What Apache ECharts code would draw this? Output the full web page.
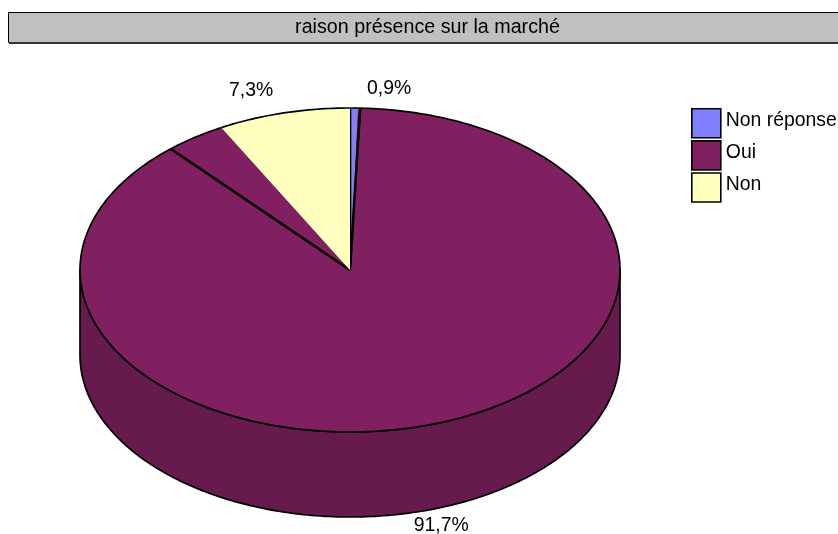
<!DOCTYPE html>
<html>
<head>
<meta charset="utf-8">
<style>html,body{margin:0;padding:0;background:#fff}#c{width:838px;height:534px}</style>
<script src="https://cdn.jsdelivr.net/npm/echarts@6/dist/echarts.min.js"></script>
</head>
<body>
<div id="c"></div>
<script>
var chartTitle = 'raison présence sur la marché';
var categories = ['Non réponse', 'Oui', 'Non'];
var labelledPercents = ['0,9%', '91,7%', '7,3%'];
// Visible share of the drawn ellipse per wedge, clockwise from 12 o'clock.
var nonReponseWedge = [0.45];
var ouiWedges = [0.15, 87.85, 3.65];
var nonWedge = [7.9];
var colors = ['#8080FF', '#802060', '#FFFFC0'];
var sideColor = '#661A4D';
var depth = 0.525;
var labelPoints = [[0.145, 1.118], [0.338, -1.58], [-0.366, 1.105]];
var FONT = '"Liberation Sans", Arial, sans-serif';
var FS = 19.4;

var TAU = Math.PI * 2;
function wedgeData(shares, startAt) {
  var out = [], a = startAt;
  shares.forEach(function (s) { out.push([a, a + s]); a += s; });
  return out;
}
function pt(share, dy) {
  var t = share / 100 * TAU;
  return [Math.sin(t), Math.cos(t) - (dy || 0)];
}
function arcPts(from, to, dy) {
  var n = Math.max(2, Math.ceil((to - from) * 4)), r = [];
  for (var i = 0; i <= n; i++) r.push(pt(from + (to - from) * i / n, dy));
  return r;
}
function makeRender(color, strokeSides) {
  return function (params, api) {
    var from = api.value(0), to = api.value(1);
    var coord = function (p) { return api.coord(p); };
    var kids = [];
    var wFrom = Math.max(from, 25), wTo = Math.min(to, 75);
    if (wTo > wFrom) {
      var top = arcPts(wFrom, wTo, 0), bot = arcPts(wFrom, wTo, depth).reverse();
      kids.push({ type: 'polygon', shape: { points: top.concat(bot).map(coord) },
        style: { fill: sideColor, stroke: '#000', lineWidth: 1.7, lineJoin: 'round' } });
    }
    var arc = arcPts(from, to, 0);
    kids.push({ type: 'polygon', shape: { points: [[0, 0]].concat(arc).map(coord) },
      style: { fill: color, stroke: null } });
    kids.push({ type: 'polyline', shape: { points: arc.map(coord) },
      style: { fill: null, stroke: '#000', lineWidth: 1.7 } });
    if (strokeSides.indexOf(params.dataIndex) >= 0) {
      kids.push({ type: 'polyline', shape: { points: [[0, 0], pt(from)].map(coord) },
        style: { fill: null, stroke: '#000', lineWidth: 2.6 } });
    }
    return { type: 'group', children: kids };
  };
}
var d0 = wedgeData(nonReponseWedge, 0);
var d1 = wedgeData(ouiWedges, 0.45);
var d2 = wedgeData(nonWedge, 92.1);

function series(name, data, color, strokeSides) {
  return { type: 'custom', name: name, coordinateSystem: 'cartesian2d', data: data,
    itemStyle: { color: color }, renderItem: makeRender(color, strokeSides),
    encode: { x: 0, y: 1 }, silent: true, clip: false, animation: false };
}

var chart = echarts.init(document.getElementById('c'), null, { renderer: 'canvas' });
chart.setOption({
  animation: false,
  backgroundColor: '#fff',
  textStyle: { fontFamily: FONT },
  graphic: [
    { type: 'rect', z: 0, shape: { x: 8.5, y: 12.5, width: 831, height: 30 },
      style: { fill: '#C0C0C0', stroke: '#000', lineWidth: 1 } },
    { type: 'line', z: 0, shape: { x1: 9, y1: 43, x2: 838, y2: 43 },
      style: { stroke: '#333', lineWidth: 2 } }
  ],
  title: { text: chartTitle, left: 427.5, top: 18, padding: 0, textAlign: 'center',
    textStyle: { fontSize: 19.7, fontWeight: 'normal', color: '#000', fontFamily: FONT } },
  legend: { data: categories, orient: 'vertical', left: 691, top: 108, padding: 0, itemWidth: 29, itemHeight: 29,
    itemGap: 1.5, icon: 'rect', selectedMode: false,
    itemStyle: { borderColor: '#000', borderWidth: 1.6 },
    formatter: function (n) { return '{a|' + n + '}\n{b|}'; },
    textStyle: { fontSize: FS, color: '#000', fontFamily: FONT, padding: 0,
      rich: { a: { fontSize: FS, lineHeight: 22, fontFamily: FONT, color: '#000' },
              b: { fontSize: 1, lineHeight: 6, height: 6 } } } },
  grid: { left: 80, top: 108, width: 540, height: 324 + 85, show: false },
  xAxis: { type: 'value', min: -1, max: 1, show: false },
  yAxis: { type: 'value', min: -1 - depth, max: 1, show: false },
  series: [
    series(categories[0], d0, colors[0], [0]),
    series(categories[1], d1, colors[1], [1, 2]),
    series(categories[2], d2, colors[2], []),
    { type: 'custom', name: 'labels', coordinateSystem: 'cartesian2d', silent: true, clip: false,
      data: labelPoints, encode: { x: 0, y: 1 },
      renderItem: function (params, api) {
        var p = api.coord([api.value(0), api.value(1)]);
        return { type: 'text', x: p[0], y: p[1],
          style: { text: labelledPercents[params.dataIndex], align: 'center', verticalAlign: 'middle',
            fontSize: FS, fill: '#000', fontFamily: FONT } };
      } }
  ]
});
</script>
</body>
</html>
